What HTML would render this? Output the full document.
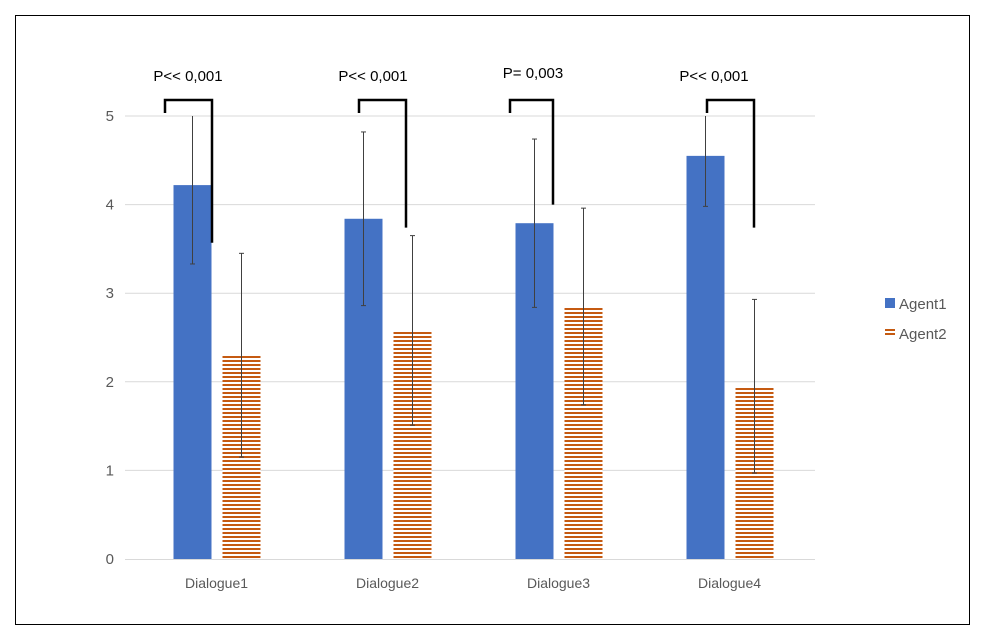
<!DOCTYPE html>
<html><head><meta charset="utf-8"><style>
body{margin:0;background:#fff;font-family:"Liberation Sans",sans-serif}
svg{display:block}
</style></head><body>
<svg id="c" width="984" height="636">
<defs><pattern id="hatch" width="4" height="4" patternUnits="userSpaceOnUse"><rect width="4" height="4" fill="#fff"/><rect width="4" height="2" fill="#C55A11"/></pattern></defs>
<rect x="15.5" y="15.5" width="954" height="609" fill="#fff" stroke="#000"/>
</svg>
<script>
const categories=["Dialogue1","Dialogue2","Dialogue3","Dialogue4"];
const agent1=[4.22,3.84,3.79,4.55];
const agent2=[2.30,2.58,2.85,1.95];
const err1=[0.89,0.98,0.95,0.57];
const err2=[1.15,1.07,1.11,0.98];
const pLabels=["P<< 0,001","P<< 0,001","P= 0,003","P<< 0,001"];
const bracketEnd=[3.57,3.74,4.0,3.74];
const yTicks=[0,1,2,3,4,5];
const bracketLeft=[-51.5,-28.5,-48.5,-22.5];
const bracketRight=[-4.5,18.5,-5.5,24.5];
const labelOffset=[-28.5,-14.5,-25.5,-15.5];
const svg=document.getElementById('c');const NS='http://www.w3.org/2000/svg';
function mk(t,a,p){const e=document.createElementNS(NS,t);for(const k in a)e.setAttribute(k,a[k]);(p||svg).appendChild(e);return e;}
const x0=131,cw=171,yb=559,ppu=88.6,ymax=5;
const y=v=>yb-Math.min(v,ymax)*ppu;
const cx=i=>x0+cw*i+cw/2;
yTicks.forEach(t=>{
 if(t>0){const l=mk('line',{x1:x0-6,x2:815,y1:y(t),y2:y(t),stroke:'#D9D9D9','stroke-width':1});
 }
 const tx=mk('text',{x:114,y:y(t)+5,'text-anchor':'end','font-size':15,fill:'#595959'});tx.textContent=t;
 
});
const ax=mk('line',{x1:x0-6,x2:815,y1:yb+0.5,y2:yb+0.5,stroke:'#D9D9D9'});

function errBar(x,v,e,name){
 const g=mk('g',{stroke:'#404040','stroke-width':1});
 
 const t=y(v+e),b=y(v-e);
 mk('line',{x1:x,x2:x,y1:t,y2:b},g);
 if(v+e<=ymax)mk('line',{x1:x-2.5,x2:x+2.5,y1:t,y2:t},g);
 mk('line',{x1:x-2.5,x2:x+2.5,y1:b,y2:b},g);
}
categories.forEach((c,i)=>{
 const c0=cx(i);
 const b1=mk('rect',{x:c0-43,y:y(agent1[i]),width:38,height:yb-y(agent1[i]),fill:'#4472C4'});
 
 const b2=mk('rect',{x:c0+6,y:y(agent2[i]),width:38,height:yb-y(agent2[i]),fill:'url(#hatch)'});
 
 errBar(c0-24,agent1[i],err1[i],'error-bar-agent1-'+(i+1));
 errBar(c0+25,agent2[i],err2[i],'error-bar-agent2-'+(i+1));
 const lb=mk('text',{x:c0,y:588,'text-anchor':'middle','font-size':14,fill:'#595959'});lb.textContent=c;
 
 const lx=c0+bracketLeft[i],rx=c0+bracketRight[i],top=100;
 const br=mk('polyline',{points:`${lx},113 ${lx},${top} ${rx},${top} ${rx},${y(bracketEnd[i])}`,fill:'none',stroke:'#000','stroke-width':2.5});
 
 const pt=mk('text',{x:c0+labelOffset[i],y:i==2?78:81,'text-anchor':'middle','font-size':15,fill:'#000'});pt.textContent=pLabels[i];
 
});
const lg=mk('g',{});
mk('rect',{x:885,y:298,width:10,height:10,fill:'#4472C4'},lg);
const t1=mk('text',{x:899,y:309,'font-size':15,fill:'#595959'},lg);t1.textContent='Agent1';
mk('rect',{x:885,y:329,width:10,height:2,fill:'#C55A11'},lg);
mk('rect',{x:885,y:333,width:10,height:2,fill:'#C55A11'},lg);
const t2=mk('text',{x:899,y:339,'font-size':15,fill:'#595959'},lg);t2.textContent='Agent2';
</script>
</body></html>
